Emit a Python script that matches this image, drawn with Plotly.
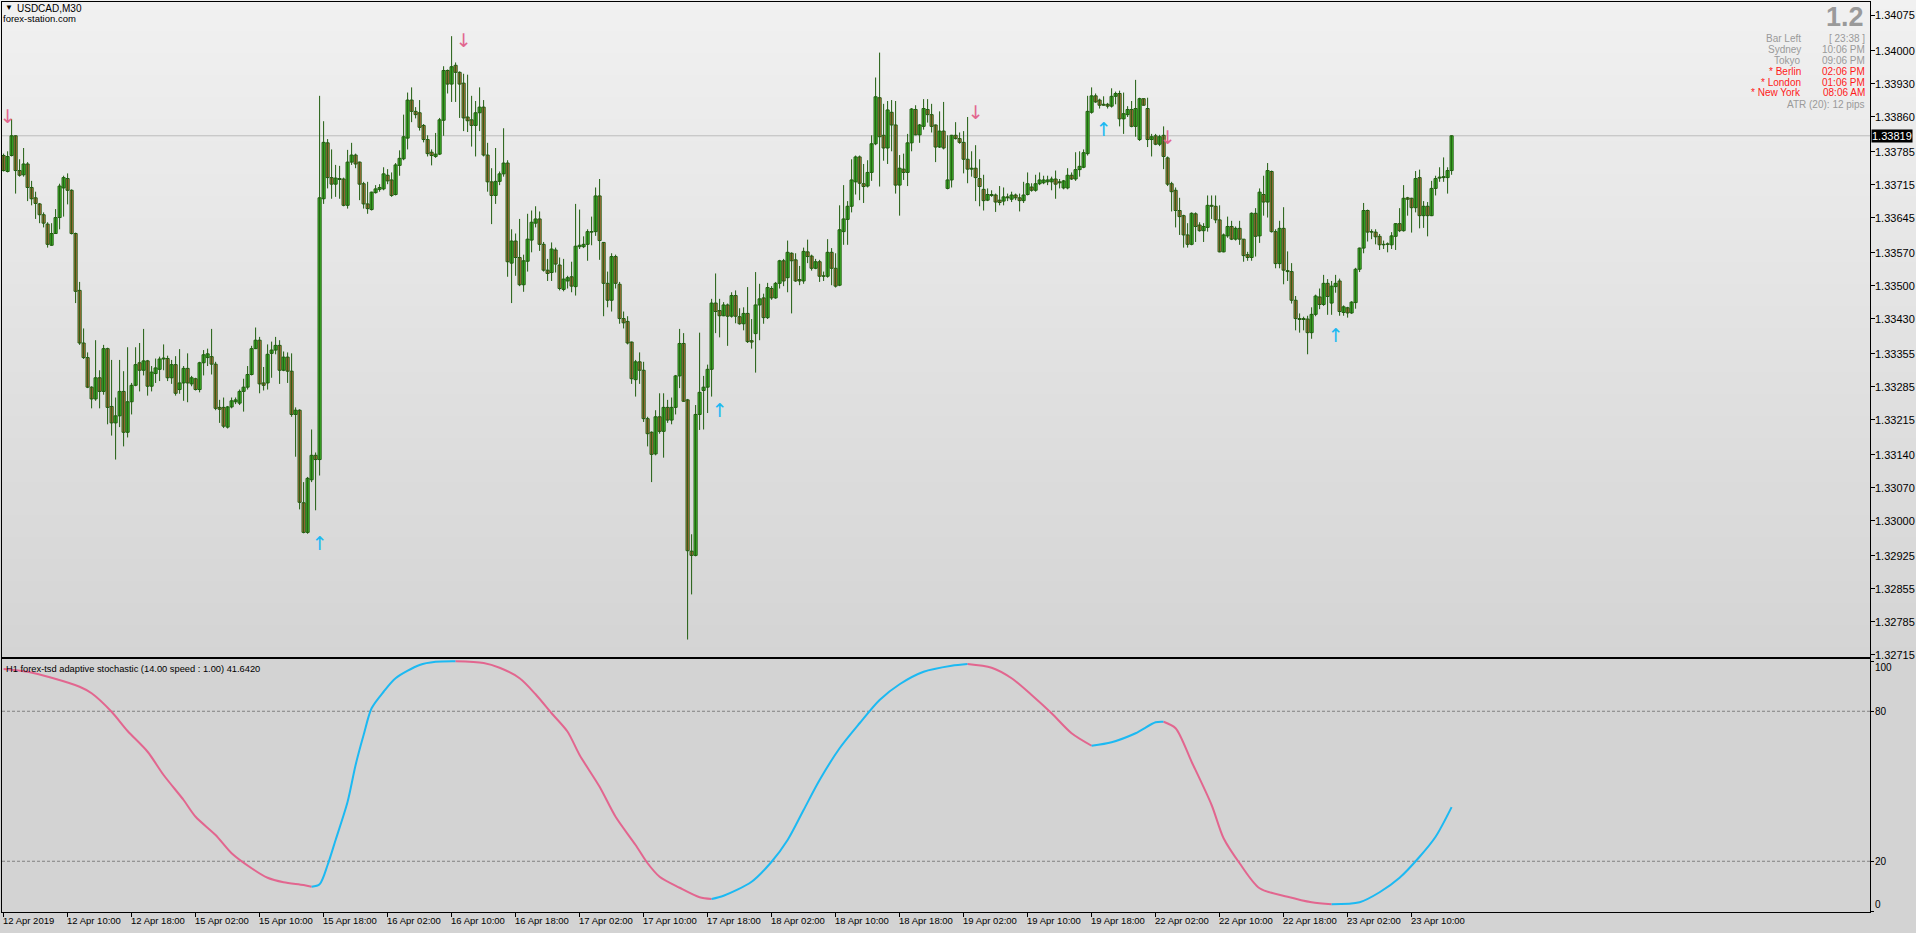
import plotly.graph_objects as go

# ---------------- data ----------------
# prices are stored in points above 1.00000 (33819 -> 1.33819)
bar_open = [
33777,33743,33777,33819,33745,33736,33759,33709,33687,33674,
33651,33631,33586,33611,33645,33708,33728,33703,33611,33490,
33378,33347,33284,33259,33304,33275,33366,33243,33208,33223,
33275,33188,33253,33288,33336,33320,33340,33286,33313,33322,
33344,33345,33304,33332,33279,33293,33324,33291,33302,33279,
33336,33347,33349,33333,33241,33241,33199,33242,33253,33250,
33275,33284,33311,33366,33384,33293,33293,33356,33363,33373,
33320,33348,33318,33226,33235,33038,32975,33087,33139,33130,
33685,33804,33730,33716,33728,33727,33671,33763,33778,33763,
33717,33674,33662,33698,33705,33706,33735,33725,33694,33756,
33770,33814,33895,33871,33868,33841,33811,33784,33775,33780,
33852,33958,33929,33969,33954,33931,33859,33853,33841,33868,
33880,33778,33721,33692,33722,33738,33761,33548,33595,33560,
33502,33552,33597,33633,33642,33588,33533,33528,33576,33544,
33492,33510,33519,33498,33583,33583,33588,33614,33615,33691,
33592,33505,33469,33562,33503,33430,33424,33380,33300,33338,
33320,33217,33188,33142,33221,33190,33241,33214,33241,33308,
33377,33257,32935,32926,33226,33277,33284,33322,33463,33447,
33436,33459,33435,33479,33434,33419,33441,33383,33398,33459,
33474,33432,33494,33474,33505,33553,33517,33569,33555,33513,
33510,33572,33563,33537,33551,33521,33520,33571,33537,33501,
33615,33641,33669,33721,33774,33717,33712,33741,33802,33900,
33820,33793,33869,33842,33714,33748,33741,33804,33875,33821,
33839,33875,33864,33842,33795,33829,33707,33725,33820,33813,
33805,33769,33748,33750,33728,33705,33682,33694,33693,33682,
33680,33689,33684,33693,33687,33681,33694,33710,33703,33717,
33719,33721,33721,33727,33721,33708,33708,33735,33727,33747,
33752,33781,33869,33904,33895,33886,33886,33882,33903,33909,
33855,33864,33875,33839,33811,33898,33877,33811,33819,33801,
33820,33772,33717,33703,33660,33649,33608,33588,33653,33629,
33617,33624,33671,33669,33640,33572,33606,33626,33599,33622,
33599,33566,33560,33654,33606,33694,33678,33743,33615,33547,
33622,33532,33530,33469,33430,33430,33429,33400,33439,33476,
33460,33505,33463,33498,33510,33443,33453,33442,33464,33535,
33580,33660,33615,33614,33605,33588,33589,33587,33605,33632,
33617,33687,33686,33666,33730,33649,33669,33649,33707,33729,
33730,33730,33745]

bar_high = [
33781,33786,33855,33820,33769,33793,33763,33723,33700,33676,
33656,33635,33633,33663,33717,33734,33739,33705,33613,33508,
33409,33358,33286,33384,33320,33374,33368,33342,33262,33342,
33318,33369,33293,33369,33378,33408,33342,33329,33345,33349,
33375,33351,33342,33350,33365,33329,33356,33308,33304,33338,
33363,33366,33408,33338,33257,33262,33244,33262,33262,33279,
33302,33329,33372,33411,33391,33327,33375,33381,33391,33384,
33360,33358,33356,33241,33237,33082,33093,33194,33145,33904,
33850,33812,33790,33757,33755,33730,33789,33804,33781,33764,
33721,33721,33700,33714,33716,33752,33748,33741,33761,33788,
33864,33911,33922,33880,33895,33844,33820,33790,33825,33857,
33967,33960,34031,33975,33956,33951,33949,33904,33893,33922,
33895,33804,33750,33793,33743,33835,33767,33620,33611,33642,
33566,33653,33660,33669,33658,33593,33557,33592,33581,33560,
33557,33521,33551,33674,33662,33605,33620,33647,33709,33727,
33593,33530,33569,33566,33508,33445,33435,33381,33342,33358,
33338,33221,33190,33235,33271,33271,33257,33262,33310,33408,
33399,33259,32971,33246,33400,33308,33332,33472,33526,33472,
33465,33462,33486,33490,33452,33454,33497,33429,33529,33504,
33483,33506,33499,33508,33555,33557,33596,33571,33569,33542,
33581,33598,33566,33557,33555,33530,33599,33580,33569,33671,
33714,33680,33769,33777,33777,33759,33767,33820,33943,33996,
33887,33893,33895,33893,33778,33781,33823,33878,33884,33844,
33897,33897,33887,33843,33871,33891,33820,33821,33848,33826,
33829,33859,33786,33799,33769,33736,33707,33703,33696,33712,
33709,33696,33700,33696,33696,33721,33741,33718,33736,33741,
33734,33734,33732,33745,33727,33725,33750,33741,33784,33786,
33790,33904,33922,33909,33898,33903,33889,33920,33913,33915,
33911,33882,33893,33938,33900,33898,33900,33823,33823,33821,
33839,33775,33721,33709,33687,33651,33633,33656,33656,33635,
33633,33692,33692,33692,33671,33611,33647,33638,33626,33638,
33599,33572,33656,33665,33707,33734,33761,33745,33620,33638,
33667,33573,33548,33478,33441,33434,33436,33454,33481,33494,
33523,33514,33510,33523,33515,33458,33455,33467,33538,33581,
33676,33662,33620,33620,33610,33596,33592,33614,33633,33665,
33714,33689,33687,33744,33747,33680,33678,33723,33734,33752,
33773,33752,33820]

bar_low = [
33743,33741,33775,33696,33732,33732,33680,33671,33642,33633,
33624,33581,33585,33610,33620,33647,33673,33609,33463,33374,
33344,33282,33239,33255,33239,33268,33205,33181,33130,33199,
33158,33177,33226,33286,33275,33309,33266,33275,33293,33297,
33320,33297,33291,33266,33270,33255,33252,33286,33277,33273,
33309,33329,33311,33235,33208,33197,33196,33239,33248,33246,
33232,33279,33309,33365,33271,33277,33279,33304,33354,33291,
33318,33293,33221,33136,33024,32973,32972,33082,33022,33096,
33674,33707,33685,33689,33685,33669,33664,33757,33750,33682,
33664,33653,33660,33696,33700,33703,33716,33689,33692,33734,
33767,33790,33848,33856,33830,33805,33775,33756,33772,33778,
33819,33909,33891,33891,33857,33829,33827,33796,33775,33829,
33775,33700,33631,33674,33714,33732,33519,33463,33521,33499,
33487,33530,33571,33624,33574,33530,33510,33510,33528,33490,
33488,33494,33486,33479,33578,33580,33553,33586,33606,33555,
33435,33454,33445,33494,33419,33409,33375,33291,33264,33291,
33210,33158,33082,33139,33185,33134,33208,33205,33226,33282,
33253,32747,32843,32924,33193,33194,33229,33264,33399,33390,
33435,33372,33432,33420,33417,33405,33378,33366,33315,33384,
33419,33429,33470,33472,33494,33499,33486,33441,33508,33501,
33504,33548,33532,33535,33508,33510,33517,33501,33496,33499,
33587,33587,33656,33694,33682,33676,33709,33723,33799,33711,
33766,33759,33786,33696,33649,33725,33712,33786,33820,33804,
33832,33847,33826,33763,33793,33790,33705,33709,33811,33802,
33739,33718,33732,33680,33669,33660,33680,33689,33657,33671,
33671,33680,33678,33682,33658,33676,33692,33700,33700,33714,
33716,33714,33703,33685,33707,33705,33705,33725,33723,33732,
33750,33777,33866,33889,33877,33883,33877,33879,33886,33839,
33823,33859,33837,33817,33808,33883,33795,33775,33799,33797,
33748,33712,33658,33624,33608,33581,33581,33586,33593,33615,
33593,33615,33642,33633,33571,33571,33602,33597,33596,33587,
33551,33553,33553,33562,33591,33649,33645,33613,33537,33537,
33503,33510,33462,33405,33400,33405,33354,33387,33435,33450,
33457,33438,33438,33485,33436,33436,33432,33440,33451,33529,
33569,33594,33599,33588,33576,33578,33571,33578,33576,33614,
33615,33649,33613,33656,33622,33623,33605,33648,33692,33721,
33721,33696,33736]

bar_close = [
33745,33775,33819,33745,33735,33759,33709,33685,33675,33651,
33633,33588,33611,33645,33712,33730,33703,33611,33488,33378,
33347,33284,33259,33304,33275,33366,33241,33208,33223,33275,
33188,33253,33288,33332,33320,33340,33286,33316,33325,33344,
33346,33304,33332,33271,33293,33324,33293,33304,33279,33336,
33353,33355,33333,33239,33237,33201,33242,33255,33257,33275,
33284,33311,33366,33384,33291,33288,33354,33363,33373,33320,
33348,33318,33226,33235,33039,32975,33090,33139,33130,33687,
33805,33730,33716,33729,33726,33671,33763,33778,33759,33716,
33674,33664,33699,33706,33709,33738,33723,33692,33757,33771,
33817,33895,33871,33864,33837,33811,33781,33777,33780,33853,
33958,33929,33966,33954,33929,33857,33851,33841,33868,33880,
33778,33721,33692,33722,33738,33761,33551,33595,33560,33502,
33553,33599,33635,33642,33588,33533,33526,33578,33546,33494,
33514,33517,33499,33584,33586,33588,33615,33615,33691,33596,
33505,33469,33562,33505,33430,33421,33378,33302,33338,33320,
33217,33185,33141,33221,33190,33241,33214,33241,33308,33377,
33254,32936,32926,33226,33273,33284,33322,33463,33445,33436,
33459,33435,33479,33435,33419,33441,33381,33380,33459,33472,
33432,33496,33474,33505,33553,33510,33571,33553,33510,33510,
33573,33562,33537,33551,33520,33520,33571,33537,33499,33619,
33642,33669,33725,33774,33718,33711,33741,33802,33902,33817,
33793,33874,33842,33714,33750,33741,33804,33876,33821,33842,
33877,33864,33839,33795,33829,33793,33725,33820,33813,33805,
33769,33748,33750,33730,33711,33681,33694,33692,33678,33677,
33689,33687,33693,33687,33681,33693,33717,33703,33717,33725,
33725,33725,33727,33716,33719,33723,33735,33727,33747,33754,
33783,33871,33904,33891,33884,33884,33882,33903,33909,33855,
33866,33875,33839,33877,33898,33884,33811,33817,33801,33817,
33775,33716,33700,33660,33647,33608,33588,33654,33626,33617,
33626,33671,33669,33640,33572,33608,33626,33599,33622,33599,
33564,33560,33654,33605,33699,33678,33745,33615,33547,33622,
33533,33530,33469,33430,33428,33428,33400,33439,33478,33460,
33505,33477,33499,33505,33445,33455,33442,33465,33535,33580,
33660,33614,33614,33604,33587,33587,33588,33606,33632,33617,
33686,33684,33666,33728,33649,33669,33649,33707,33728,33731,
33732,33745,33819]

# adaptive stochastic (sampled along the bars)
stoch_bar = [0, 6, 12, 19, 22, 27, 31, 36, 40, 45,
             48, 53, 57, 62, 66, 70, 75, 77, 79, 81,
             83, 86, 88, 90, 92, 95, 98, 104, 108, 113,
             120, 124, 129, 133, 137, 141, 144, 149, 153, 158,
             161, 164, 169, 174, 177, 180, 187, 192, 196, 200,
             204, 209, 214, 219, 224, 230, 237, 241, 247, 252,
             257, 262, 267, 272, 277, 283, 288, 290, 293, 297,
             302, 305, 309, 314, 321, 327, 332, 339, 344, 349,
             354, 358, 362]
stoch_val = [96.9, 95.8, 93.4, 89.8, 87.2, 79.8, 72.1, 63.8, 54.5, 44.5,
             37.8, 30.5, 23.2, 17.2, 13.4, 11.6, 10.5, 9.8, 10.8, 18.5,
             28.5, 43.8, 58.5, 70.5, 81.2, 87.8, 93.2, 98.5, 99.8, 100.0,
             99.3, 97.4, 93.2, 86.8, 79.2, 71.8, 62.5, 49.8, 37.8, 26.5,
             19.2, 13.8, 9.4, 5.6, 4.9, 6.2, 11.8, 19.8, 28.5, 40.5,
             52.5, 65.2, 75.2, 84.5, 90.8, 95.8, 98.2, 98.9, 97.4, 93.2,
             86.5, 79.2, 71.2, 66.2, 67.6, 71.2, 75.6, 75.8, 73.2, 59.8,
             42.5, 29.2, 19.2, 9.2, 5.8, 3.6, 2.8, 3.6, 7.6, 13.4,
             21.8, 29.8, 41.642]
stoch_levels = [20, 80]

# signal arrows (price in points above 1.00000)
arrow_bar = [1, 79, 115, 179, 243, 275, 291, 333]
arrow_price = [33857, 32948, 34018, 33230, 33864, 33829, 33812, 33391]
arrow_dir = ["down", "up", "down", "up", "down", "up", "down", "up"]

price_ticks = [1.34075, 1.34000, 1.33930, 1.33860, 1.33785, 1.33715, 1.33645,
               1.33570, 1.33500, 1.33430, 1.33355, 1.33285, 1.33215, 1.33140,
               1.33070, 1.33000, 1.32925, 1.32855, 1.32785, 1.32715]
current_price = 1.33819

time_tick_bars = [0, 16, 32, 48, 64, 80, 96, 112, 128, 144, 160, 176, 192,
                  208, 224, 240, 256, 272, 288, 304, 320, 336, 352]
time_tick_text = ["12 Apr 2019", "12 Apr 10:00", "12 Apr 18:00", "15 Apr 02:00",
                  "15 Apr 10:00", "15 Apr 18:00", "16 Apr 02:00", "16 Apr 10:00",
                  "16 Apr 18:00", "17 Apr 02:00", "17 Apr 10:00", "17 Apr 18:00",
                  "18 Apr 02:00", "18 Apr 10:00", "18 Apr 18:00", "19 Apr 02:00",
                  "19 Apr 10:00", "19 Apr 18:00", "22 Apr 02:00", "22 Apr 10:00",
                  "22 Apr 18:00", "23 Apr 02:00", "23 Apr 10:00"]

info_labels = ["Bar Left", "Sydney", "Tokyo", "* Berlin", "* London", "* New York"]
info_values = ["[ 23:38 ]", "10:06 PM", "09:06 PM", "02:06 PM", "01:06 PM", "08:06 AM"]
info_red = [False, False, False, True, True, True]

# ---------------- styling ----------------
W, H = 1916, 933
ML, MR, MT, MB = 2, 46, 2, 21
PW, PH = W - ML - MR, H - MT - MB
FONT = "Liberation Sans Narrow, Liberation Sans, Arial, sans-serif"
OUTLINE = "#215d10"
UP_FILL = "#45c930"
DN_FILL = "#d8744c"
PINK = "#e2668f"
BLUE = "#1cb9f2"

main_bottom_px, main_top_px = 657, 2
ind_bottom_px, ind_top_px = 912, 659


def py2paper(py):
    return (H - MB - py) / PH


def px2paper(px):
    return (px - ML) / PW


def to_price(v):
    return 1.0 + v / 1e5


n = min(len(bar_open), len(bar_high), len(bar_low), len(bar_close))
xs = list(range(n))
o = [to_price(v) for v in bar_open[:n]]
hi = [to_price(v) for v in bar_high[:n]]
lo = [to_price(v) for v in bar_low[:n]]
c = [to_price(v) for v in bar_close[:n]]

fig = go.Figure()

# wicks
wx, wy = [], []
for i in range(n):
    wx += [i, i, None]
    wy += [lo[i], hi[i], None]
fig.add_trace(go.Scatter(x=wx, y=wy, mode="lines", line=dict(color=OUTLINE, width=1),
                         xaxis="x", yaxis="y", hoverinfo="skip", showlegend=False))

# bodies
body_base = [min(o[i], c[i]) for i in range(n)]
body_h = [max(abs(c[i] - o[i]), 0.000004) for i in range(n)]
body_col = [UP_FILL if c[i] >= o[i] else DN_FILL for i in range(n)]
fig.add_trace(go.Bar(x=xs, y=body_h, base=body_base, width=0.78,
                     marker=dict(color=body_col, line=dict(color=OUTLINE, width=1)),
                     xaxis="x", yaxis="y", hoverinfo="skip", showlegend=False))

# arrows
fig.add_trace(go.Scatter(
    x=arrow_bar, y=[to_price(p) for p in arrow_price], mode="text",
    text=["\u2193" if d == "down" else "\u2191" for d in arrow_dir],
    textfont=dict(family="DejaVu Sans", size=19,
                  color=[PINK if d == "down" else BLUE for d in arrow_dir]),
    textposition="middle center", xaxis="x", yaxis="y",
    hoverinfo="skip", showlegend=False))

# stochastic: split into rising (blue) / falling (pink) runs
runs = []
start = 0
cur = None
for k in range(1, len(stoch_val)):
    up = stoch_val[k] >= stoch_val[k - 1]
    if cur is None:
        cur = up
    elif up != cur:
        runs.append((start, k - 1, cur))
        start = k - 1
        cur = up
runs.append((start, len(stoch_val) - 1, cur))
for a, b, up in runs:
    fig.add_trace(go.Scatter(
        x=stoch_bar[a:b + 1], y=stoch_val[a:b + 1], mode="lines",
        line=dict(color=BLUE if up else PINK, width=2, shape="spline", smoothing=0.8),
        xaxis="x2", yaxis="y2", hoverinfo="skip", showlegend=False))

shapes = []
# gradient background of the price window (stacked, no seams)
nb = 60
yb = py2paper(main_bottom_px + 1)
yt = py2paper(-2)
for k in range(nb):
    g = round(212 + (241 - 212) * (k + 0.5) / nb)
    shapes.append(dict(type="rect", xref="paper", yref="paper",
                       x0=px2paper(-2), x1=px2paper(W + 2),
                       y0=yb + (yt - yb) * k / nb, y1=yt,
                       fillcolor=f"rgb({g},{g},{g})", line=dict(width=0), layer="below"))
# current price line
shapes.append(dict(type="line", xref="x domain", yref="y", x0=0, x1=1,
                   y0=current_price, y1=current_price,
                   line=dict(color="#bdbdbd", width=1), layer="below"))
# stochastic levels
for lv in stoch_levels:
    shapes.append(dict(type="line", xref="x2 domain", yref="y2", x0=0, x1=1, y0=lv, y1=lv,
                       line=dict(color="#808080", width=1, dash="3px,2px"), layer="below"))

ann = []


def text_px(t, px, py, xanchor="left", size=10, color="#000000", family=FONT, bold=False):
    ann.append(dict(text=("<b>%s</b>" % t) if bold else t, xref="paper", yref="paper",
                    x=px2paper(px), y=py2paper(py), xanchor=xanchor, yanchor="middle",
                    showarrow=False, font=dict(family=family, size=size, color=color)))


# top-left labels
text_px("\u25BC", 3, 8, size=8)
text_px("USDCAD,M30", 15, 9, size=10)
text_px("forex-station.com", 1, 18, size=9.5)

# top-right info block
text_px("1.2", 1866, 17, xanchor="right", size=27, color="#9a9a9a", family="Liberation Sans, Arial", bold=True)
rows_y = [38.7, 49.7, 60.6, 71.5, 82, 93]
for lab, val, red, yy in zip(info_labels, info_values, info_red, rows_y):
    col = "#ff1a1a" if red else "#9a9a9a"
    text_px(lab, 1803, yy, xanchor="right", size=10, color=col)
    text_px(val, 1867, yy, xanchor="right", size=10, color=col)
text_px("ATR (20): 12 pips", 1867, 104.4, xanchor="right", size=10, color="#9a9a9a")

# price scale labels
for pv in price_ticks:
    ann.append(dict(text="%.5f" % pv, xref="paper", yref="y", x=1, y=pv,
                    xanchor="left", yanchor="middle", xshift=3, showarrow=False,
                    font=dict(family=FONT, size=11, color="#000000")))

# current price tag
ann.append(dict(text="1.33819", xref="paper", yref="y", x=1, y=current_price,
                xanchor="left", yanchor="middle", xshift=1, showarrow=False,
                bgcolor="#000000", borderpad=0,
                font=dict(family=FONT, size=11, color="#ffffff")))

# indicator title
text_px("H1 forex-tsd adaptive stochastic (14.00 speed : 1.00) 41.6420", 4, 668.5, size=9.3)

# indicator scale labels
for lab, yv in zip(["100", "80", "20", "0"], [97.7, 80, 20, 2.6]):
    ann.append(dict(text=lab, xref="paper", yref="y2", x=1, y=yv, xanchor="left",
                    yanchor="middle", xshift=3, showarrow=False,
                    font=dict(family=FONT, size=10, color="#000000")))

# time labels
for tb, tt in zip(time_tick_bars, time_tick_text):
    ann.append(dict(text=tt, xref="x2", yref="paper", x=tb, y=0, xanchor="left",
                    yanchor="top", xshift=-3, yshift=-1, showarrow=False,
                    font=dict(family=FONT, size=9.5, color="#000000")))

xr = [-0.4, 466.6]
fig.update_layout(
    width=W, height=H, margin=dict(l=ML, r=MR, t=MT, b=MB),
    paper_bgcolor="#d3d3d3", plot_bgcolor="rgba(0,0,0,0)",
    showlegend=False, shapes=shapes, annotations=ann,
    font=dict(family=FONT, size=10, color="#000000"),
    xaxis=dict(domain=[0, 1], anchor="y", range=xr, showticklabels=False, ticks="",
               showgrid=False, zeroline=False, showline=True, mirror=True,
               linecolor="#000000", linewidth=1),
    yaxis=dict(domain=[py2paper(main_bottom_px), py2paper(main_top_px)], anchor="x",
               side="right", range=[1.327098, 1.341037],
               tickvals=price_ticks, showticklabels=False,
               ticks="outside", ticklen=4, tickcolor="#000000",
               showgrid=False, zeroline=False, showline=True, mirror=True,
               linecolor="#000000", linewidth=1),
    xaxis2=dict(domain=[0, 1], anchor="y2", range=xr,
                tickvals=time_tick_bars, showticklabels=False, ticks="outside",
                ticklen=4, tickcolor="#000000",
                showgrid=False, zeroline=False, showline=True, mirror=True,
                linecolor="#000000", linewidth=1),
    yaxis2=dict(domain=[0, py2paper(ind_top_px)], anchor="x2", side="right",
                range=[-0.3, 100.9], tickvals=[0, 20, 80, 100], showticklabels=False,
                ticks="outside", ticklen=3, tickcolor="#000000",
                showgrid=False, zeroline=False, showline=True, mirror=True,
                linecolor="#000000", linewidth=1),
)

fig.write_html("out.html", config={"displayModeBar": False},
               post_script="document.body.style.margin='0px';"
                           "document.body.style.padding='0px';"
                           "document.documentElement.style.overflow='hidden';")
